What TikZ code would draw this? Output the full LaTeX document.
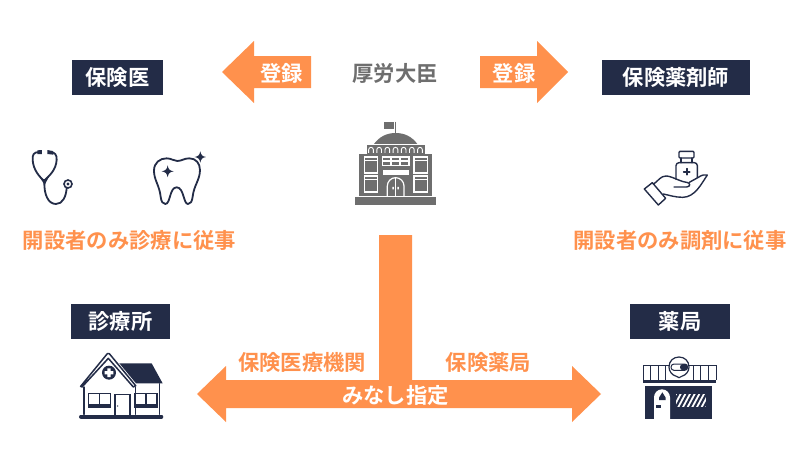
\documentclass[tikz,border=0pt]{standalone}
\usepackage{fontspec}
\setmainfont{Noto Sans CJK JP}[BoldFont={Noto Sans CJK JP Bold}]
\definecolor{orng}{HTML}{FF914D}
\definecolor{navy}{HTML}{232C47}
\definecolor{gry}{HTML}{6E6E6E}
\tikzset{
 labelbox/.style={fill=navy,text=white,font=\fontsize{21.3}{21.3}\selectfont\bfseries,minimum height=35pt,inner sep=0pt},
 otext/.style={text=orng,font=\fontsize{21.3}{21.3}\selectfont\bfseries,inner sep=0pt},
 wtext/.style={text=white,font=\fontsize{21.3}{21.3}\selectfont\bfseries,inner sep=0pt},
 gtext/.style={text=gry,font=\fontsize{21.3}{21.3}\selectfont\bfseries,inner sep=0pt},
 icon/.style={draw=navy,line width=1.8pt,line join=round,line cap=round},
 whiteln/.style={draw=white,line width=1.2pt},
}
\begin{document}
\begin{tikzpicture}[x=1pt,y=-1pt]
\useasboundingbox[fill=white] (0,0) rectangle (800,450);
% block arrows
\fill[orng] (222,72) -- (254,41) -- (254,56) -- (311,56) -- (311,88) -- (254,88) -- (254,103) -- cycle;
\fill[orng] (568,72) -- (537,41) -- (537,56) -- (480,56) -- (480,88) -- (537,88) -- (537,103) -- cycle;
\fill[orng] (379,235) -- (412,235) -- (412,380) -- (572,380) -- (572,366) -- (601,394) -- (572,422) -- (572,408)
  -- (226,408) -- (226,422) -- (197,394) -- (226,366) -- (226,380) -- (379,380) -- cycle;
% texts
\node[wtext] (regL) at (281.5,73) {登録};
\node[wtext] (regR) at (514,73) {登録};
\node[gtext] (mhlw) at (395,73) {厚労大臣};
\node[labelbox,minimum width=91pt] (doc) at (117.5,77.5) {保険医};
\node[labelbox,minimum width=148pt] (phm) at (676,77.5) {保険薬剤師};
\node[labelbox,minimum width=99pt] (clinic) at (120.5,321) {診療所};
\node[labelbox,minimum width=100pt] (pharmacy) at (680,321) {薬局};
\node[otext] (docnote) at (129.5,240) {開設者のみ診療に従事};
\node[otext] (phmnote) at (680,240) {開設者のみ調剤に従事};
\node[otext] (inst) at (302,362) {保険医療機関};
\node[otext] (shop) at (488.5,362) {保険薬局};
\node[wtext] (mina) at (395.5,395) {みなし指定};
% stethoscope
\begin{scope}[shift={(0,130)},scale=0.3333]
 \draw[icon] (118,66) .. controls (100,66) and (97,75) .. (98,90) .. controls (100,120) and (118,140) .. (132,152)
   .. controls (148,138) and (168,120) .. (170,90) .. controls (171,75) and (165,66) .. (150,66);
 \fill[navy] (112,61) -- (126,60) -- (126,72) -- (112,72) -- cycle;
 \fill[navy] (142,60) -- (158,63) -- (160,74) -- (142,72) -- cycle;
 \fill[navy] (118,140) -- (132,150) -- (148,138) -- (134,165) -- cycle;
 \draw[icon] (133,155) .. controls (132,195) and (145,222) .. (168,222) .. controls (188,222) and (198,200) .. (200,175);
 \draw[navy,line width=1.6pt,fill=white] (204,162) circle (12);
 \fill[navy] (204,162) circle (5);
\end{scope}
% tooth
\begin{scope}[shift={(0,130)},scale=0.3333]
 \draw[icon] (462,122) .. controls (462,98) and (480,85) .. (500,85) .. controls (515,85) and (520,93) .. (532,93)
   .. controls (545,93) and (552,85) .. (568,85) .. controls (588,85) and (600,100) .. (600,120)
   .. controls (600,150) and (582,165) .. (578,200) .. controls (576,215) and (572,222) .. (564,222)
   .. controls (550,222) and (552,172) .. (530,172) .. controls (508,172) and (512,222) .. (496,222)
   .. controls (488,222) and (484,215) .. (482,200) .. controls (478,165) and (462,150) .. (462,122) -- cycle;
 \fill[navy] (503,106) .. controls (505,118) and (509,122) .. (521,124) .. controls (509,126) and (505,130) .. (503,142)
   .. controls (501,130) and (497,126) .. (485,124) .. controls (497,122) and (501,118) .. (503,106) -- cycle;
 \fill[navy] (601,64) .. controls (603,75) and (607,79) .. (618,81) .. controls (607,83) and (603,87) .. (601,98)
   .. controls (599,87) and (595,83) .. (584,81) .. controls (595,79) and (599,75) .. (601,64) -- cycle;
\end{scope}
% building
\begin{scope}[shift={(340,110)},scale=0.3333]
 \fill[gry] (133,35) rectangle (163,57);
 \draw[gry,line width=1pt] (167,35) -- (167,70);
 \fill[gry] (102,102) .. controls (118,80) and (140,69) .. (167,69) .. controls (194,69) and (216,80) .. (232,102) -- cycle;
 \fill[gry] (80,106) rectangle (254,131);
 \foreach \ax in {93,117.5,142,166.5,191,215.5,240}{
  \draw[whiteln,line width=0.9pt] (\ax-7,129) -- (\ax-7,119) arc (180:360:7) -- (\ax+7,129);
 }
 \fill[gry] (58,133) rectangle (277,258);
 \fill[gry] (45,262) rectangle (288,286);
 \foreach \wx/\wy in {73/141,222/141,73/198,222/198}{
  \draw[whiteln] (\wx,\wy) rectangle (\wx+40,\wy+48);
  \draw[whiteln] (\wx,\wy+11) -- (\wx+40,\wy+11);
 }
 \draw[whiteln] (127,141) rectangle (207,166);
 \draw[whiteln] (127,153) -- (207,153) (153,141) -- (153,166) (180,141) -- (180,166);
 \fill[white] (128,180) rectangle (206,194);
 \draw[whiteln] (142,258) -- (142,228) arc (180:360:25) -- (192,258);
 \draw[whiteln] (167,203) -- (167,258);
 \fill[white] (157,231) rectangle (162,238) (172,231) rectangle (177,238);
\end{scope}
% hand with bottle
\begin{scope}[shift={(630,140)},scale=0.3333]
 \tikzset{thin icon/.style={icon,line width=1.4pt}}
 \draw[thin icon,rounded corners=1pt] (147,34) rectangle (192,54);
 \draw[thin icon] (153,54) -- (153,68) (186,54) -- (186,68);
 \draw[thin icon,rounded corners=3pt] (202,113) -- (202,68) -- (138,68) -- (138,118);
 \draw[thin icon,line width=1.7pt] (170,86) -- (170,104) (161,95) -- (179,95);
 \draw[thin icon] (43,147) -- (67,128) -- (107,175) -- (85,195) -- cycle;
 \draw[thin icon] (70,133) .. controls (85,122) and (92,108) .. (108,108) .. controls (125,108) and (150,125) .. (170,127)
   .. controls (182,128) and (182,140) .. (170,141) -- (132,141);
 \draw[thin icon] (178,127) -- (205,112) .. controls (215,105) and (225,103) .. (232,105)
   .. controls (215,130) and (195,172) .. (158,172) .. controls (135,172) and (115,165) .. (100,162);
\end{scope}
% house
\begin{scope}[shift={(70,345)},scale=0.3333]
 \fill[navy] (148,55) -- (245,55) -- (278,115) -- (198,115) -- cycle;
 \draw[icon,line width=1.5pt,fill=white] (32,124) -- (36,126) -- (115,40) -- (190,126) -- (197,122) -- (118,26) -- (112,26) -- cycle;
 \draw[icon,line width=1.5pt] (42,126) -- (42,208) (268,116) -- (268,208) (197,126) -- (197,208);
 \fill[navy] (117,83) circle (21);
 \fill[white] (112,70) rectangle (122,96) (104,78) rectangle (130,88);
 \foreach \wx in {55,195}{
  \draw[navy,line width=1.3pt] (\wx,146) rectangle (\wx+66,188);
  \draw[navy,line width=1.3pt] (\wx+33,146) -- (\wx+33,178);
  \fill[navy] (\wx,177) rectangle (\wx+66,188);
 }
 \draw[navy,line width=1.3pt] (135,210) -- (135,148) -- (180,148) -- (180,210);
 \fill[navy] (143,183) circle (2);
 \draw[navy,line width=4pt,line cap=round] (33,215) -- (274,215);
\end{scope}
% pharmacy
\begin{scope}[shift={(630,345)},scale=0.3333]
 \draw[navy,line width=1pt] (40,104) -- (40,60) -- (258,60) -- (258,104);
 \foreach \lx in {62,84,106,190,212,234}{\draw[navy,line width=1pt] (\lx,60) -- (\lx,104);}
 \fill[navy] (40,105) rectangle (258,113);
 \fill[navy] (45,122) rectangle (245,222);
 \fill[white] (72,222) -- (72,157) arc (180:360:24) -- (120,222) -- cycle;
 \fill[navy] (97,142) -- (107,158) -- (107,165) -- (87,165) -- (87,158) -- cycle;
 \fill[navy] (78,180) rectangle (94,188);
 \fill[white] (138,146) rectangle (228,187);
 \begin{scope}
  \clip (138,146) rectangle (228,187);
  \foreach \hx in {120,134,...,232}{\fill[navy] (\hx,187) -- (\hx+7,187) -- (\hx+29,146) -- (\hx+22,146) -- cycle;}
 \end{scope}
 \draw[navy,line width=1.2pt,fill=white] (147,98) -- (139,94) .. controls (125,90) and (117,78) .. (117,66)
   .. controls (117,48) and (130,36) .. (147,36) .. controls (164,36) and (177,48) .. (177,66)
   .. controls (177,78) and (169,90) .. (155,94) -- cycle;
 \draw[navy,line width=1pt,rounded corners=3pt] (123,57) rectangle (173,76);
 \fill[navy,rounded corners=3pt] (150,57) -- (173,57) -- (173,76) -- (150,76) -- cycle;
\end{scope}
\end{tikzpicture}
\end{document}
